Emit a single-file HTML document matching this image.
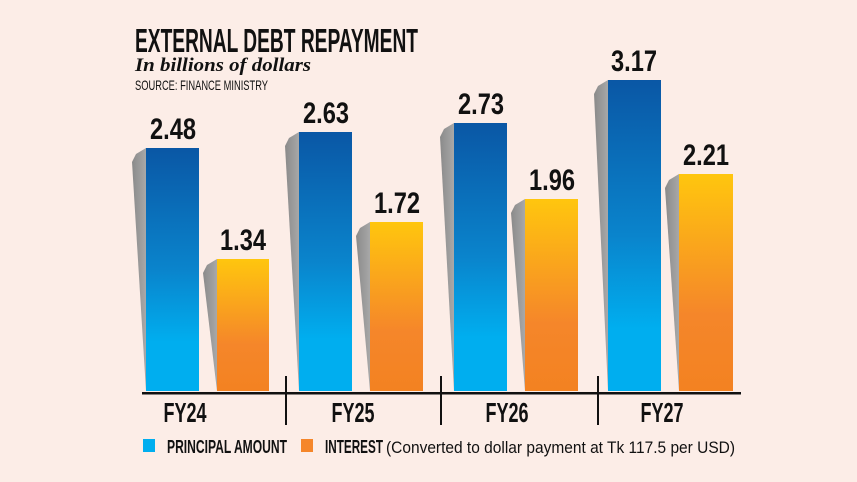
<!DOCTYPE html>
<html><head><meta charset="utf-8"><style>
html,body{margin:0;padding:0;background:#fcede7;}
svg{display:block;}
text{font-family:"Liberation Sans",sans-serif;fill:#111;}
</style></head><body>
<svg width="857" height="482" viewBox="0 0 857 482" xmlns="http://www.w3.org/2000/svg">
<defs>
<linearGradient id="b" x1="0" y1="0" x2="0" y2="1">
<stop offset="0" stop-color="#0a57a5"/><stop offset="0.5" stop-color="#0a84cc"/><stop offset="0.8" stop-color="#00aeef"/><stop offset="1" stop-color="#00aeef"/></linearGradient>
<linearGradient id="o" x1="0" y1="0" x2="0" y2="1">
<stop offset="0" stop-color="#ffc60e"/><stop offset="0.65" stop-color="#f5862a"/><stop offset="1" stop-color="#f38221"/></linearGradient>
<linearGradient id="g" x1="0" y1="0" x2="1" y2="0">
<stop offset="0" stop-color="#8a8a8a"/><stop offset="1" stop-color="#a8a8a8"/></linearGradient>
</defs>
<rect width="857" height="482" fill="#fcede7"/>
<text x="135" y="52" font-size="33" font-weight="bold" textLength="283" lengthAdjust="spacingAndGlyphs">EXTERNAL DEBT REPAYMENT</text>
<text x="135" y="71" font-size="19" font-weight="bold" font-style="italic" style="font-family:'Liberation Serif',serif" textLength="176" lengthAdjust="spacingAndGlyphs">In billions of dollars</text>
<text x="135" y="90" font-size="14" textLength="133" lengthAdjust="spacingAndGlyphs">SOURCE: FINANCE MINISTRY</text>

<g>
<polygon points="146,148 136,154 132,162 146,391" fill="url(#g)"/>
<rect x="146" y="148" width="53" height="243" fill="url(#b)"/>
<polygon points="217,259 207,265 203,273 217,391" fill="url(#g)"/>
<rect x="217" y="259" width="52" height="132" fill="url(#o)"/>

<polygon points="299,132 289,138 285,146 299,391" fill="url(#g)"/>
<rect x="299" y="132" width="53" height="259" fill="url(#b)"/>
<polygon points="370,222 360,228 356,236 370,391" fill="url(#g)"/>
<rect x="370" y="222" width="53" height="169" fill="url(#o)"/>

<polygon points="454,123 444,129 440,137 454,391" fill="url(#g)"/>
<rect x="454" y="123" width="53" height="268" fill="url(#b)"/>
<polygon points="525,199 515,205 511,213 525,391" fill="url(#g)"/>
<rect x="525" y="199" width="53" height="192" fill="url(#o)"/>

<polygon points="608,80 598,86 594,94 608,391" fill="url(#g)"/>
<rect x="608" y="80" width="53" height="311" fill="url(#b)"/>
<polygon points="679,174 669,180 665,188 679,391" fill="url(#g)"/>
<rect x="679" y="174" width="54" height="217" fill="url(#o)"/>
</g>

<g font-size="30" font-weight="bold" text-anchor="middle">
<text x="173" y="139" textLength="46" lengthAdjust="spacingAndGlyphs">2.48</text>
<text x="243" y="250" textLength="46" lengthAdjust="spacingAndGlyphs">1.34</text>
<text x="326" y="123" textLength="46" lengthAdjust="spacingAndGlyphs">2.63</text>
<text x="397" y="213" textLength="46" lengthAdjust="spacingAndGlyphs">1.72</text>
<text x="481" y="114" textLength="46" lengthAdjust="spacingAndGlyphs">2.73</text>
<text x="552" y="190" textLength="46" lengthAdjust="spacingAndGlyphs">1.96</text>
<text x="634" y="71" textLength="46" lengthAdjust="spacingAndGlyphs">3.17</text>
<text x="706" y="165" textLength="46" lengthAdjust="spacingAndGlyphs">2.21</text>
</g>

<rect x="142" y="392" width="599" height="2.5" fill="#111"/>
<rect x="285" y="376" width="2" height="49" fill="#111"/>
<rect x="440" y="376" width="2" height="49" fill="#111"/>
<rect x="597" y="376" width="2" height="49" fill="#111"/>

<g font-size="28" font-weight="bold" text-anchor="middle">
<text x="185" y="422" textLength="43" lengthAdjust="spacingAndGlyphs">FY24</text>
<text x="353" y="422" textLength="43" lengthAdjust="spacingAndGlyphs">FY25</text>
<text x="507" y="422" textLength="43" lengthAdjust="spacingAndGlyphs">FY26</text>
<text x="662" y="422" textLength="43" lengthAdjust="spacingAndGlyphs">FY27</text>
</g>

<rect x="143" y="439" width="12" height="13" fill="#00aeef"/>
<text x="167" y="453" font-size="18" font-weight="bold" textLength="120" lengthAdjust="spacingAndGlyphs">PRINCIPAL AMOUNT</text>
<rect x="301" y="439" width="12" height="13" fill="#f5862a"/>
<text x="325" y="453" font-size="18" font-weight="bold" textLength="58" lengthAdjust="spacingAndGlyphs">INTEREST</text>
<text x="386" y="453" font-size="17" textLength="349" lengthAdjust="spacingAndGlyphs">(Converted to dollar payment at Tk 117.5 per USD)</text>
</svg>
</body></html>
